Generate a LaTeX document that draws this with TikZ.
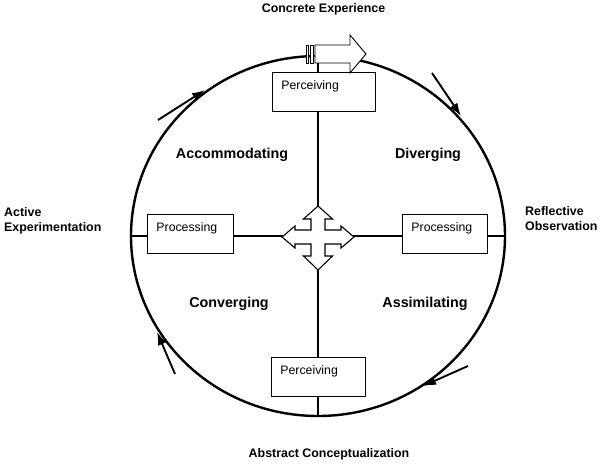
\documentclass[tikz,border=0pt]{standalone}
\usepackage{fontspec}
\setmainfont{Liberation Sans}
\usetikzlibrary{shapes.geometric,arrows.meta}
\tikzset{
  ring/.style={draw, ellipse, line width=2.4pt, inner sep=0pt, minimum width=374pt, minimum height=360pt},
  axis/.style={line width=2pt},
  pbox/.style={draw, fill=white, line width=0.9pt, anchor=north west, align=left,
    font=\fontsize{12.3}{14}\selectfont, text height=12pt, text depth=16pt,
    inner ysep=5.5pt, inner xsep=9pt},
  quad/.style={font=\fontsize{14.3}{16}\selectfont\bfseries, anchor=base},
  pole/.style={font=\fontsize{12.4}{15}\selectfont\bfseries},
  cyc/.style={line width=1.9pt, -{Latex[length=13pt,width=9pt]}},
  blk/.style={draw, fill=white, line width=0.9pt, line join=miter},
}
\begin{document}
\begin{tikzpicture}[x=1pt,y=-1pt]
\useasboundingbox (0,0) rectangle (600,465);
% ring
\node[ring] (circ) at (318,236) {};
% axes
\draw[axis] (circ.north) -- (circ.south);
\draw[axis] (circ.west) -- (circ.east);
% boxes
\node[pbox, text width=85pt] (ptop) at (272,72) {Perceiving};
\node[pbox, text width=76pt] (pbot) at (271,357) {Perceiving};
\node[pbox, text width=68pt] (prl) at (147,214) {Processing};
\node[pbox, text width=67pt] (prr) at (402,214) {Processing};
% centre four-way arrow
\coordinate (ctr) at (318,237);
\draw[blk, line width=1.1pt, shift={(ctr)}]
  (0,-31) -- (14.5,-18) -- (7,-18) -- (7,-7) -- (23,-7) -- (23,-11) -- (36,0)
  -- (23,11) -- (23,7) -- (7,7) -- (7,19) -- (14.5,19) -- (0,33)
  -- (-14.5,19) -- (-7,19) -- (-7,7) -- (-23,7) -- (-23,11) -- (-36,0)
  -- (-23,-11) -- (-23,-7) -- (-7,-7) -- (-7,-18) -- (-14.5,-18) -- cycle;
% top striped arrow
\coordinate (ta) at (306,45);
\draw[blk, shift={(ta)}] (0,0) rectangle (2.6,18);
\draw[blk, shift={(ta)}] (4.6,0) rectangle (7.2,18);
\draw[blk, shift={(ta)}] (9,0) -- (44,0) -- (44,-10) -- (60,9) -- (44,28) -- (44,18) -- (9,18) -- cycle;
% cycle arrows
\coordinate (a1s) at (158,120); \coordinate (a1e) at (205,90);
\coordinate (a2s) at (432,73);  \coordinate (a2e) at (461,116);
\coordinate (a3s) at (468,366); \coordinate (a3e) at (423,386);
\coordinate (a4s) at (175,374); \coordinate (a4e) at (157,332);
\draw[cyc] (a1s) -- (a1e);
\draw[cyc] (a2s) -- (a2e);
\draw[cyc] (a3s) -- (a3e);
\draw[cyc] (a4s) -- (a4e);
% quadrant labels
\node[quad] (acc) at (232,159) {Accommodating};
\node[quad] (div) at (428,159) {Diverging};
\node[quad] (con) at (229,307) {Converging};
\node[quad] (ass) at (425,307) {Assimilating};
% pole labels
\node[pole, anchor=base] (ce) at (323.5,12.5) {Concrete Experience};
\node[pole, anchor=base] (ac) at (329,457.5) {Abstract Conceptualization};
\node[pole, anchor=base west, align=left, inner xsep=0pt] (ae) at (4,231.5) {Active\\Experimentation};
\node[pole, anchor=base west, align=left, inner xsep=0pt] (ro) at (525,231) {Reflective\\Observation};
\end{tikzpicture}
\end{document}
